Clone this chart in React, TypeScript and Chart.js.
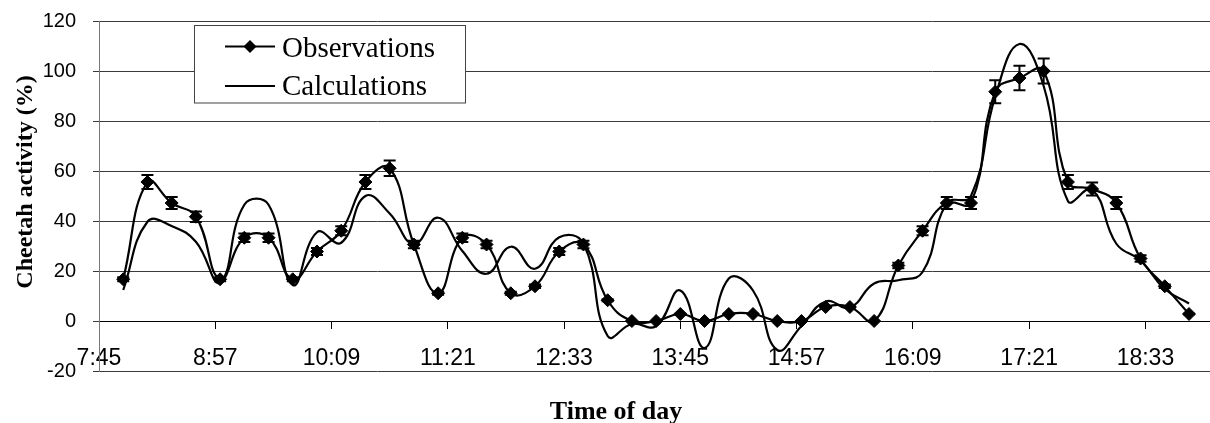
import React, { useEffect, useRef } from "react";
import { Chart, registerables } from "chart.js";

Chart.register(...registerables);

// Sampling times (every 15 minutes)
const times = [
  "8:00", "8:15", "8:30", "8:45", "9:00", "9:15", "9:30", "9:45",
  "10:00", "10:15", "10:30", "10:45", "11:00", "11:15", "11:30", "11:45",
  "12:00", "12:15", "12:30", "12:45", "13:00", "13:15", "13:30", "13:45",
  "14:00", "14:15", "14:30", "14:45", "15:00", "15:15", "15:30", "15:45",
  "16:00", "16:15", "16:30", "16:45", "17:00", "17:15", "17:30", "17:45",
  "18:00", "18:15", "18:30", "18:45", "19:00",
];

// Observed cheetah activity (%)
const observations = [
  16.7, 55.6, 47.2, 41.7, 16.7, 33.3, 33.3, 16.7,
  27.8, 36.1, 55.6, 61.1, 30.6, 11.1, 33.3, 30.6,
  11.1, 13.9, 27.8, 30.6, 8.3, 0, 0, 2.8,
  0, 2.8, 2.8, 0, 0, 5.6, 5.6, 0,
  22.2, 36.1, 47.2, 47.2, 91.7, 97.2, 100, 55.6,
  52.8, 47.2, 25.0, 13.9, 2.8,
];

// Error bar half-lengths for the observations
const observationErrors = [
  0.8, 2.8, 2.4, 2.1, 0.8, 1.7, 1.7, 0.8,
  1.4, 1.8, 2.8, 3.1, 1.5, 0.6, 1.7, 1.5,
  0.6, 0.7, 1.4, 1.5, 0.4, 0, 0, 0.1,
  0, 0.1, 0.1, 0, 0, 0.3, 0.3, 0,
  1.1, 1.8, 2.4, 2.4, 4.6, 4.9, 5.0, 2.8,
  2.6, 2.4, 1.3, 0.7, 0.1,
];

// Model-calculated activity (%)
const calculations = [
  12.4, 39.7, 38.0, 31.7, 15.5, 46.5, 46.5, 14.4,
  35.5, 31.3, 50.0, 43.0, 30.8, 41.3, 28.0, 18.9,
  29.7, 20.9, 33.5, 31.0, -6.0, -1.2, -2.0, 12.2,
  -10.8, 17.0, 12.2, -11.6, -2.0, 7.8, 5.4, 15.0,
  16.3, 19.6, 47.0, 50.0, 89.7, 110.8, 94.0, 48.0,
  52.6, 30.9, 24.2, 12.8, 7.0,
];

// Time axis tick labels and visible range
const xTickLabels = ["7:45", "8:57", "10:09", "11:21", "12:33", "13:45", "14:57", "16:09", "17:21", "18:33"];
const xRange = ["7:45", "19:13"];
const yRange = [-20, 120];
const yStep = 20;

const seriesNames = ["Observations", "Calculations"];
const xTitle = "Time of day";
const yTitle = "Cheetah activity (%)";

const toMinutes = (s: string) => {
  const [h, m] = s.split(":").map(Number);
  return h * 60 + m;
};
const formatMinutes = (v: number) =>
  `${Math.floor(v / 60)}:${String(Math.round(v % 60)).padStart(2, "0")}`;

const SANS = "'Liberation Sans', Arial, sans-serif";
const SERIF = "'Liberation Serif', 'Times New Roman', serif";
const LINE_W = 2.2;
const SMOOTH = 0.45;

const errorBarsPlugin = {
  id: "errorBars",
  afterDatasetsDraw(chart: any) {
    const { ctx } = chart;
    const ys = chart.scales.y;
    const meta = chart.getDatasetMeta(0);
    ctx.save();
    ctx.strokeStyle = "#000";
    ctx.lineWidth = 2;
    meta.data.forEach((pt: any, i: number) => {
      const e = observationErrors[i];
      if (!e) return;
      const v = observations[i];
      const top = ys.getPixelForValue(v + e);
      const bot = ys.getPixelForValue(v - e);
      const x = pt.x;
      ctx.beginPath();
      ctx.moveTo(x, top);
      ctx.lineTo(x, bot);
      ctx.moveTo(x - 6, top);
      ctx.lineTo(x + 6, top);
      ctx.moveTo(x - 6, bot);
      ctx.lineTo(x + 6, bot);
      ctx.stroke();
    });
    ctx.restore();
  },
};

const decorPlugin = {
  id: "decor",
  afterDraw(chart: any) {
    const { ctx } = chart;
    ctx.save();

    // Axis titles
    ctx.fillStyle = "#000";
    ctx.font = `bold 26px ${SERIF}`;
    ctx.textAlign = "center";
    ctx.textBaseline = "alphabetic";
    ctx.fillText(xTitle, 616, 419);

    ctx.save();
    ctx.translate(32, 182);
    ctx.rotate(-Math.PI / 2);
    ctx.font = `bold 24px ${SERIF}`;
    ctx.fillText(yTitle, 0, 0);
    ctx.restore();

    // Legend box
    const bx = 194.5, by = 25.5, bw = 271, bh = 77.5;
    ctx.fillStyle = "#fff";
    ctx.fillRect(bx, by, bw, bh);
    ctx.strokeStyle = "#444";
    ctx.lineWidth = 1;
    ctx.strokeRect(bx, by, bw, bh);

    const rows = [46.5, 86];
    const baselines = [56.5, 95];
    seriesNames.forEach((name, i) => {
      const y = rows[i];
      ctx.strokeStyle = "#000";
      ctx.lineWidth = LINE_W;
      ctx.beginPath();
      ctx.moveTo(225, y);
      ctx.lineTo(275, y);
      ctx.stroke();
      if (i === 0) {
        ctx.fillStyle = "#000";
        ctx.beginPath();
        ctx.moveTo(250, y - 6.5);
        ctx.lineTo(256.5, y);
        ctx.lineTo(250, y + 6.5);
        ctx.lineTo(243.5, y);
        ctx.closePath();
        ctx.fill();
      }
      ctx.fillStyle = "#000";
      ctx.font = `29px ${SERIF}`;
      ctx.textAlign = "left";
      ctx.textBaseline = "alphabetic";
      ctx.fillText(name, 282, baselines[i]);
    });
    ctx.restore();
  },
};

export default function App() {
  const canvasRef = useRef<HTMLCanvasElement | null>(null);

  useEffect(() => {
    const canvas = canvasRef.current;
    if (!canvas) return;
    const xs = times.map(toMinutes);

    const chart = new Chart(canvas, {
      type: "line",
      data: {
        datasets: [
          {
            label: seriesNames[0],
            data: xs.map((x, i) => ({ x, y: observations[i] })),
            borderColor: "#000",
            backgroundColor: "#000",
            borderWidth: LINE_W,
            pointStyle: "rectRot",
            pointRadius: 6.5,
            pointBorderWidth: 1,
            pointBackgroundColor: "#000",
            pointBorderColor: "#000",
            tension: SMOOTH,
          },
          {
            label: seriesNames[1],
            data: xs.map((x, i) => ({ x, y: calculations[i] })),
            borderColor: "#000",
            borderWidth: LINE_W,
            pointRadius: 0,
            tension: SMOOTH,
          },
        ],
      },
      options: {
        animation: false,
        responsive: false,
        devicePixelRatio: 1,
        layout: { autoPadding: false, padding: { top: 21, bottom: 52, left: 0, right: 0 } },
        plugins: {
          legend: { display: false },
          tooltip: { enabled: false },
        },
        scales: {
          x: {
            type: "linear",
            position: { y: 0 } as any,
            min: toMinutes(xRange[0]),
            max: toMinutes(xRange[1]),
            afterBuildTicks: (scale: any) => {
              scale.ticks = xTickLabels.map((t) => ({ value: toMinutes(t) }));
            },
            afterFit: (scale: any) => {
              scale.paddingLeft = 0;
              scale.paddingRight = 0;
            },
            ticks: {
              callback: (v: any) => formatMinutes(Number(v)),
              font: { family: SANS, size: 23, lineHeight: 1 },
              color: "#000",
              padding: 19,
              maxRotation: 0,
              autoSkip: false,
              includeBounds: false,
            },
            grid: {
              display: true,
              drawOnChartArea: false,
              drawTicks: true,
              tickLength: 7,
              color: "#000",
            },
            border: { display: true, color: "#000", width: 1 },
          },
          y: {
            min: yRange[0],
            max: yRange[1],
            ticks: {
              stepSize: yStep,
              font: { family: SANS, size: 20 },
              color: "#000",
              padding: 17,
            },
            grid: { color: "#3a3a3a", tickLength: 6 },
            border: { color: "#777", width: 1 },
            afterFit: (scale: any) => {
              scale.width = 99;
              scale.paddingTop = 0;
              scale.paddingBottom = 0;
            },
          },
        },
      },
      plugins: [errorBarsPlugin, decorPlugin],
    });

    return () => chart.destroy();
  }, []);

  return (
    <div style={{ position: "fixed", left: 0, top: 0, width: 1210, height: 423, background: "#fff" }}>
      <canvas ref={canvasRef} width={1210} height={423} style={{ display: "block" }} />
    </div>
  );
}
